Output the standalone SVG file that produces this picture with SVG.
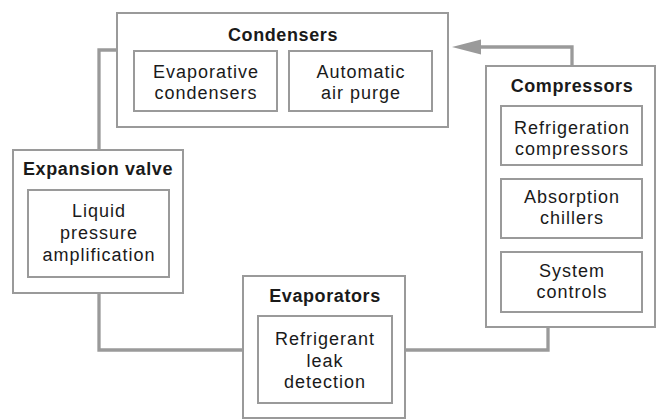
<svg xmlns="http://www.w3.org/2000/svg" width="659" height="419" viewBox="0 0 659 419">
<style>
.box{fill:#fff;stroke:#9a9a9a;stroke-width:2}
.conn{fill:none;stroke:#9a9a9a;stroke-width:3.3}
.t{font-family:"Liberation Sans",Arial,sans-serif;font-weight:bold;font-size:18px;letter-spacing:0.6px;fill:#1a1a1a;text-anchor:middle}
.b{font-family:"Liberation Sans",Arial,sans-serif;font-size:18px;letter-spacing:1px;fill:#1a1a1a;text-anchor:middle}
</style>
<defs>
<marker id="ah" markerWidth="10" markerHeight="6" refX="0" refY="3" orient="auto" markerUnits="userSpaceOnUse" viewBox="0 0 10 6">
<polygon points="0,0 10,3 0,6" fill="#9a9a9a"/>
</marker>
</defs>
<rect width="659" height="419" fill="#fff"/>
<g id="connectors">
<path class="conn" d="M572,66 V47 H480"/>
<polygon points="452,47 481,39.5 481,54.5" fill="#9a9a9a"/>
<path class="conn" d="M117,50 H99 V150"/>
<path class="conn" d="M99,293 V350 H243"/>
<path class="conn" d="M405,350 H548 V327"/>
</g>
<g id="condensers">
<rect class="box" x="117" y="13" width="331" height="114"/>
<text class="t" x="283" y="41">Condensers</text>
<rect class="box" x="134" y="51" width="143" height="60"/>
<text class="b" x="206" y="78">Evaporative</text>
<text class="b" x="206" y="99">condensers</text>
<rect class="box" x="289" y="51" width="143" height="60"/>
<text class="b" x="361" y="78">Automatic</text>
<text class="b" x="361" y="99">air purge</text>
</g>
<g id="compressors">
<rect class="box" x="486" y="66" width="169" height="261"/>
<text class="t" x="572" y="92">Compressors</text>
<rect class="box" x="501" y="106" width="141" height="59"/>
<text class="b" x="572" y="134">Refrigeration</text>
<text class="b" x="572" y="155">compressors</text>
<rect class="box" x="501" y="179" width="141" height="59"/>
<text class="b" x="572" y="203">Absorption</text>
<text class="b" x="572" y="224">chillers</text>
<rect class="box" x="501" y="252" width="141" height="60"/>
<text class="b" x="572" y="277">System</text>
<text class="b" x="572" y="298">controls</text>
</g>
<g id="expansion-valve">
<rect class="box" x="13" y="150" width="170" height="143"/>
<text class="t" x="98" y="175">Expansion valve</text>
<rect class="box" x="28" y="190" width="141" height="87"/>
<text class="b" x="99" y="217">Liquid</text>
<text class="b" x="99" y="239">pressure</text>
<text class="b" x="99" y="261">amplification</text>
</g>
<g id="evaporators">
<rect class="box" x="243" y="276" width="162" height="142"/>
<text class="t" x="325" y="302">Evaporators</text>
<rect class="box" x="258" y="316" width="134" height="87"/>
<text class="b" x="325" y="345">Refrigerant</text>
<text class="b" x="325" y="367">leak</text>
<text class="b" x="325" y="388">detection</text>
</g>
</svg>
